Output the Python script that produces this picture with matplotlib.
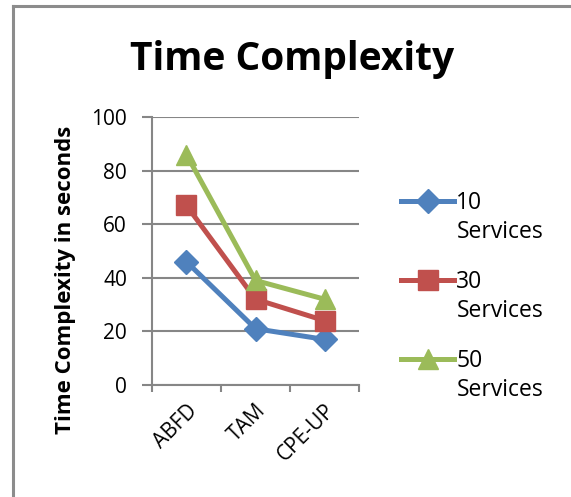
import matplotlib.pyplot as plt
from matplotlib.lines import Line2D
from matplotlib.text import Annotation

plt.rcParams['font.family'] = ['Open Sans', 'DejaVu Sans']

methods = ["ABFD", "TAM", "CPE-UP"]
series_names = ["10 Services", "30 Services", "50 Services"]
services_10 = [46, 21, 17]
services_30 = [67, 32, 24]
services_50 = [86, 39, 32]

colors = ["#4F81BD", "#C0504D", "#9BBB59"]
markers = ["D", "s", "^"]
msizes = [12, 14, 14]
grey = "#868686"

fig = plt.figure(figsize=(5.71, 4.97), dpi=100)
ax = fig.add_axes([0.266, 0.2254, 0.363, 0.5392])

x = list(range(len(methods)))
for vals, c, m, ms in zip([services_10, services_30, services_50], colors, markers, msizes):
    ax.plot(x, vals, color=c, marker=m, markersize=ms, linewidth=3.6,
            solid_capstyle="round", solid_joinstyle="round")

ax.set_xlim(-0.5, 2.5)
ax.set_ylim(0, 100)
ax.set_yticks(range(0, 101, 20))
# category boundaries get the tick marks, names sit between them
ax.set_xticks([-0.5, 0.5, 1.5, 2.5])
ax.set_xticklabels([])
ax.set_xticks(x, minor=True)
ax.set_xticklabels(methods, minor=True, rotation=45, ha="right",
                   rotation_mode="anchor", fontsize=15)
ax.tick_params(axis="x", which="minor", length=0, pad=11)
ax.tick_params(axis="x", which="major", length=5, width=1.5, color=grey)
ax.tick_params(axis="y", length=7, width=1.5, color=grey, labelsize=15, pad=11)
ax.grid(axis="y", color=grey, linewidth=1.5)
ax.set_axisbelow(True)
for side in ["top", "right"]:
    ax.spines[side].set_visible(False)
for side in ["left", "bottom"]:
    ax.spines[side].set_color(grey)
    ax.spines[side].set_linewidth(1.5)

fig.text(0.511, 0.859, "Time Complexity", fontsize=28, fontweight="bold",
         ha="center", va="baseline")
fig.text(0.114, 0.437, "Time Complexity in seconds", fontsize=16, fontweight="bold",
         rotation=90, ha="center", va="center")

handles = [Line2D([], [], color=c, marker=m, markersize=ms, linewidth=3.6)
           for c, m, ms in zip(colors, markers, msizes)]
leg = fig.legend(handles, [s.split()[0] for s in series_names],
                 loc="upper left", bbox_to_anchor=(0.703, 0.616),
                 frameon=False, fontsize=16.5, handlelength=2.3,
                 handletextpad=0.1, labelspacing=2.4,
                 borderpad=0, borderaxespad=0)
# second line of each legend entry, hung under the number
for txt, name in zip(leg.get_texts(), series_names):
    sub = Annotation(name.split()[1], xy=(0, 0), xycoords=txt,
                     xytext=(0, -3.5), textcoords="offset points",
                     va="top", ha="left", fontsize=16.5)
    sub.set_zorder(10)
    fig.add_artist(sub)

# frame lines along the top and left edges
fig.add_artist(Line2D([0.0228, 0.0228], [0, 0.988], color="#8C8C8C", linewidth=2.2))
fig.add_artist(Line2D([0.0228, 1.0], [0.988, 0.988], color="#8C8C8C", linewidth=2.2))

fig.savefig("out.png", dpi=100)
